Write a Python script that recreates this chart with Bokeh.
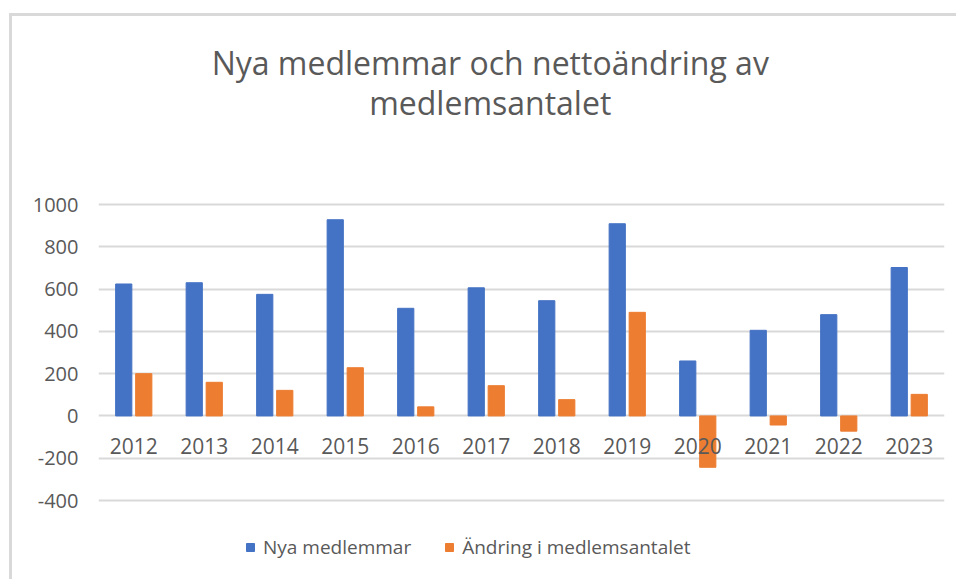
from bokeh.plotting import figure
from bokeh.models import (Range1d, FixedTicker, Legend, LegendItem,
                          ColumnDataSource, FactorRange, PrintfTickFormatter)
from bokeh.transform import dodge
from bokeh.core.properties import value
from bokeh.embed import file_html
from bokeh.resources import INLINE

years = ["2012", "2013", "2014", "2015", "2016", "2017",
         "2018", "2019", "2020", "2021", "2022", "2023"]
nya_medlemmar = [624, 630, 575, 928, 509, 606, 545, 909, 260, 405, 479, 702]
andring = [200, 159, 121, 228, 43, 143, 77, 490, -243, -43, -72, 102]
y_ticks = [-400, -200, 0, 200, 400, 600, 800, 1000]

title_line1 = "Nya medlemmar och nettoändring av"
title_line2 = "medlemsantalet"
label_nya = "Nya medlemmar"
label_andring = "Ändring i medlemsantalet"

BLUE = "#4472C4"
ORANGE = "#ED7D31"
TXT = "#595959"
GRID = "#d9d9d9"
FONT = "Open Sans"

src = ColumnDataSource(dict(years=years, nya=nya_medlemmar, andring=andring))

# The value axis runs 1000 .. -400 over 296 px; the frame is extended over
# the whole canvas (188 px above, 82 px below) so title and legend fit in it.
PX_PER_UNIT = 296 / 1400
Y_TOP = 1000 + 188 / PX_PER_UNIT
Y_BOTTOM = -400 - 82 / PX_PER_UNIT

p = figure(x_range=FactorRange(factors=years),
           y_range=Range1d(start=Y_BOTTOM, end=Y_TOP),
           width=947, height=566, output_backend="svg", toolbar_location=None,
           min_border_left=86, min_border_right=15, min_border_top=0,
           min_border_bottom=0, outline_line_color=None,
           background_fill_color="white", border_fill_color="white",
           styles={"margin-left": "9px", "margin-top": "13px",
                   "border-left": "3px solid #d9d9d9",
                   "border-top": "3px solid #d9d9d9"})

r1 = p.vbar(x=dodge("years", -0.142, range=p.x_range), top="nya", width=0.23,
            source=src, fill_color=BLUE, line_color=BLUE)
r2 = p.vbar(x=dodge("years", 0.142, range=p.x_range), top="andring", width=0.23,
            source=src, fill_color=ORANGE, line_color=ORANGE)

# category labels next to the zero line
p.text(x="years", y=0, text="years", source=src, y_offset=30,
       text_align="center", text_baseline="middle",
       text_font=value(FONT), text_font_size="21px", text_color=TXT)

# two-line chart title, centred over the chart area
mid_year = years[len(years) // 2 - 1]
p.text(x=[mid_year], y=[Y_TOP], text=[title_line1], x_offset=4, y_offset=46,
       text_align="center", text_baseline="middle",
       text_font=value(FONT), text_font_size="32px", text_color=TXT)
p.text(x=[mid_year], y=[Y_TOP], text=[title_line2], x_offset=4, y_offset=86,
       text_align="center", text_baseline="middle",
       text_font=value(FONT), text_font_size="32px", text_color=TXT)

p.xaxis.visible = False
p.xgrid.grid_line_color = None
p.ygrid.ticker = FixedTicker(ticks=y_ticks)
p.ygrid.grid_line_color = GRID
p.ygrid.grid_line_width = 2

p.yaxis.ticker = FixedTicker(ticks=y_ticks)
p.yaxis.formatter = PrintfTickFormatter(format="%d")
p.yaxis.axis_line_color = None
p.yaxis.major_tick_line_color = None
p.yaxis.minor_tick_line_color = None
p.yaxis.major_label_standoff = 14
p.yaxis.major_label_text_font = FONT
p.yaxis.major_label_text_font_size = "20px"
p.yaxis.major_label_text_color = TXT

legend = Legend(items=[LegendItem(label=label_nya, renderers=[r1]),
                       LegendItem(label=label_andring, renderers=[r2])],
                orientation="horizontal", location=(147, 22),
                glyph_width=10, glyph_height=10, label_standoff=8, spacing=33,
                padding=0, margin=0, border_line_color=None,
                background_fill_alpha=0,
                label_text_font=FONT, label_text_font_size="19px",
                label_text_color=TXT)
p.add_layout(legend)

open("out.html", "w").write(file_html(p, INLINE))
